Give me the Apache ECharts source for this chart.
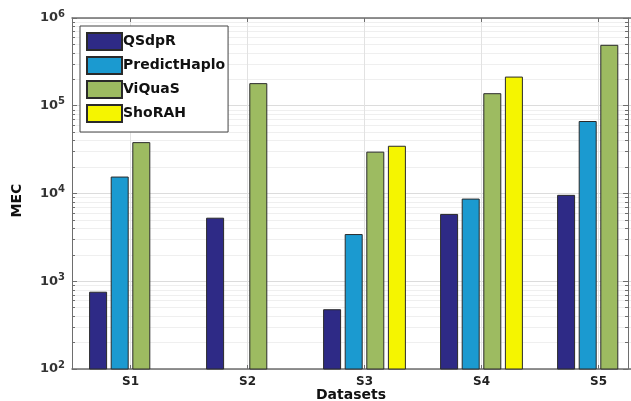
<!DOCTYPE html>
<html>
<head>
<meta charset="utf-8">
<script src="https://cdn.jsdelivr.net/npm/echarts@6/dist/echarts.min.js"></script>
<style>html,body{margin:0;padding:0;background:#fff}#c{width:631px;height:401px}</style>
</head>
<body>
<div id="c"></div>
<script>
const categories = ['S1', 'S2', 'S3', 'S4', 'S5'];
const qsdpr = [760, 5300, 480, 5850, 9650];
const predictHaplo = [15600, null, 3450, 8750, 67000];
const viquas = [38500, 181000, 30000, 139000, 495000];
const shorah = [null, null, 35000, 215000, null];
const yTickExponents = [2, 3, 4, 5, 6];

const chart = echarts.init(document.getElementById('c'), null, {renderer: 'canvas'});
const FONT = 'DejaVu Sans';
const axisGray = '#6e6e6e';

function barSeries(name, data, color) {
  return {
    name: name, type: 'bar', data: data, barWidth: 18, barGap: '20%',
    itemStyle: {color: color, borderColor: '#2a2a2a', borderWidth: 1},
    emphasis: {disabled: true}
  };
}

const logAxisCommon = {
  type: 'log', logBase: 10, min: 100, max: 1e6,
  axisLine: {show: true, lineStyle: {color: axisGray, width: 1}},
  axisTick: {show: true, inside: true, length: 5, lineStyle: {color: axisGray}},
  minorTick: {show: true, splitNumber: 9, length: 3, lineStyle: {color: axisGray}}
};

chart.setOption({
  animation: false,
  backgroundColor: '#fff',
  title: {
    text: 'Datasets', left: 351, top: 388, textAlign: 'center', padding: 0,
    textStyle: {fontFamily: FONT, fontWeight: 'bold', fontSize: 14, color: '#111'}
  },
  grid: {left: 72, top: 18, bottom: 32, width: 585, outerBoundsMode: 'none', containLabel: false},
  legend: {
    orient: 'vertical', left: 80, top: 26,
    padding: [6, 3, 9, 6], itemGap: 5, itemWidth: 35, itemHeight: 17,
    backgroundColor: '#fff', borderColor: '#444', borderWidth: 1,
    icon: 'rect',
    textStyle: {fontFamily: FONT, fontWeight: 'bold', fontSize: 14, color: '#111', padding: [0, 0, 0, -4]},
    data: ['QSdpR', 'PredictHaplo', 'ViQuaS', 'ShoRAH']
  },
  xAxis: [{
    type: 'category', data: categories, position: 'bottom',
    axisLine: {lineStyle: {color: axisGray, width: 1.5}},
    axisTick: {show: true, inside: true, alignWithLabel: true, length: 4, lineStyle: {color: axisGray}},
    axisLabel: {fontFamily: FONT, fontWeight: 'bold', fontSize: 12, color: '#222', margin: 7},
    splitLine: {show: true, alignWithLabel: true, lineStyle: {color: '#e2e2e2'}}
  }, {
    type: 'category', data: categories, position: 'top',
    axisLine: {lineStyle: {color: axisGray, width: 1.5}},
    axisTick: {show: true, inside: true, alignWithLabel: true, length: 4, lineStyle: {color: axisGray}},
    axisLabel: {show: false}, splitLine: {show: false}
  }],
  yAxis: [Object.assign({}, logAxisCommon, {
    position: 'left',
    name: 'MEC', nameLocation: 'middle', nameGap: 48,
    nameTextStyle: {fontFamily: FONT, fontWeight: 'bold', fontSize: 14, color: '#111', padding: [0, 14, 0, 0]},
    axisLabel: {
      margin: 7,
      formatter: function (v) {
        const e = Math.round(Math.log10(v));
        return yTickExponents.indexOf(e) >= 0 ? '{b|10}{s|' + e + '}' : '';
      },
      rich: {
        b: {fontFamily: FONT, fontWeight: 'bold', fontSize: 13, color: '#333'},
        s: {fontFamily: FONT, fontWeight: 'bold', fontSize: 10, color: '#333', verticalAlign: 'top', padding: [0, 0, 8, 0]}
      }
    },
    splitLine: {show: true, lineStyle: {color: '#dcdcdc'}},
    minorSplitLine: {show: true, lineStyle: {color: '#efefef'}}
  }), Object.assign({}, logAxisCommon, {
    position: 'right', offset: -29,
    axisLabel: {show: false}, splitLine: {show: false}
  })],
  series: [
    barSeries('QSdpR', qsdpr, '#2e2a86'),
    barSeries('PredictHaplo', predictHaplo, '#1b9ad0'),
    barSeries('ViQuaS', viquas, '#9dbb61'),
    barSeries('ShoRAH', shorah, '#f5f500')
  ]
});
</script>
</body>
</html>
